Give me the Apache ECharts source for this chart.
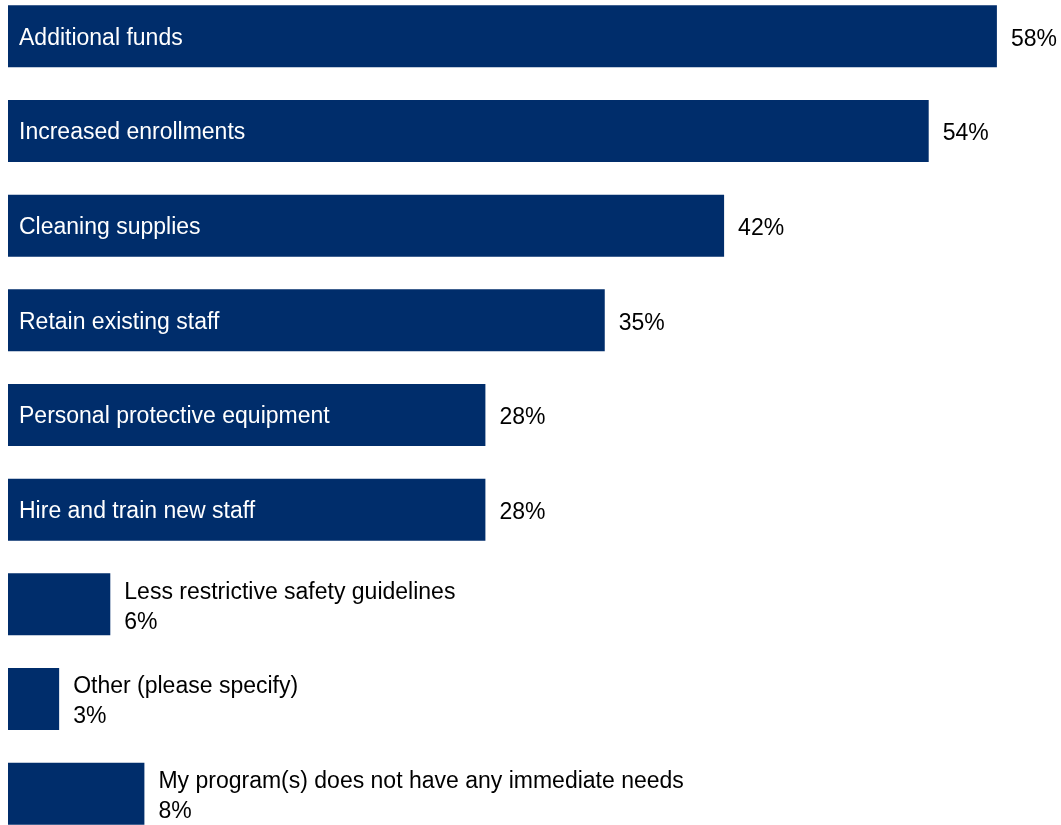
<!DOCTYPE html>
<html>
<head>
<meta charset="utf-8">
<script src="https://cdn.jsdelivr.net/npm/echarts@6/dist/echarts.min.js"></script>
<style>
  html, body { margin: 0; padding: 0; background: #ffffff; }
  #chart { width: 1061px; height: 825px; }
</style>
</head>
<body>
<div id="chart"></div>
<script>
// Survey responses: what programs need most (share of respondents, %)
const categories = [
  'Additional funds',
  'Increased enrollments',
  'Cleaning supplies',
  'Retain existing staff',
  'Personal protective equipment',
  'Hire and train new staff',
  'Less restrictive safety guidelines',
  'Other (please specify)',
  'My program(s) does not have any immediate needs'
];
const values = [58, 54, 42, 35, 28, 28, 6, 3, 8];

const BAR_COLOR = '#002D6B';
const FONT = '"Liberation Sans Narrow", "Arial Narrow", "Liberation Sans", Arial, sans-serif';
const FONT_SIZE = 23;
// bars shorter than this carry their name outside, next to the value
const INSIDE_MIN = 10;

const chart = echarts.init(document.getElementById('chart'), null, { renderer: 'canvas' });

const nameData = values.map((v, i) => ({
  value: v,
  name: categories[i],
  label: { show: v >= INSIDE_MIN }
}));

const valueData = values.map((v, i) => ({
  value: v,
  name: categories[i],
  label: v >= INSIDE_MIN
    ? { formatter: '{c}%', distance: 14 }
    : { formatter: '{b}\n{c}%', distance: 14, lineHeight: 30 }
}));

chart.setOption({
  animation: false,
  backgroundColor: '#ffffff',
  grid: {
    left: 8,
    right: 30,
    top: -11,
    bottom: -16,
    outerBoundsMode: 'none',
    containLabel: false
  },
  xAxis: {
    type: 'value',
    min: 0,
    max: 60,
    show: false
  },
  yAxis: {
    type: 'category',
    data: categories,
    inverse: true,
    show: false
  },
  series: [
    {
      type: 'bar',
      data: nameData,
      barWidth: 62,
      barGap: '-100%',
      itemStyle: { color: BAR_COLOR },
      label: {
        position: 'insideLeft',
        distance: 11,
        offset: [0, 2],
        formatter: '{b}',
        color: '#ffffff',
        fontFamily: FONT,
        fontSize: FONT_SIZE
      },
      silent: true
    },
    {
      type: 'bar',
      data: valueData,
      barWidth: 62,
      barGap: '-100%',
      itemStyle: { color: 'rgba(0,0,0,0)' },
      label: {
        show: true,
        position: 'right',
        offset: [0, 3],
        color: '#000000',
        fontFamily: FONT,
        fontSize: FONT_SIZE,
        align: 'left'
      },
      silent: true
    }
  ]
});
</script>
</body>
</html>
